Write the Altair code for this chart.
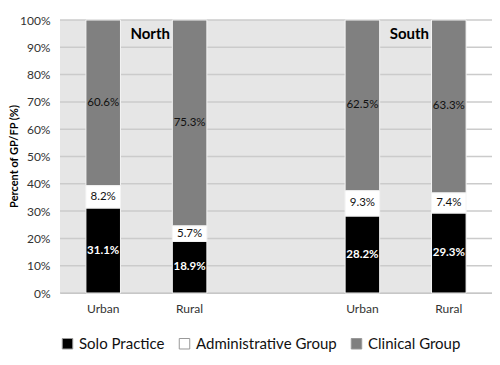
import altair as alt
import pandas as pd

slots = ["North Urban", "North Rural", "gap", "South Urban", "South Rural"]
bars = ["North Urban", "North Rural", "South Urban", "South Rural"]
series = ["Solo Practice", "Administrative Group", "Clinical Group"]
solo = [31.1, 18.9, 28.2, 29.3]
admin = [8.2, 5.7, 9.3, 7.4]
clinical = [60.6, 75.3, 62.5, 63.3]
colors = ["#000000", "#ffffff", "#808080"]
regions = ["North", "South"]
region_anchor = ["North Urban", "South Urban"]
y_ticks = [0, 0.1, 0.2, 0.3, 0.4, 0.5, 0.6, 0.7, 0.8, 0.9, 1.0]

rows = []
for i, b in enumerate(bars):
    for j, (s, vals) in enumerate(zip(series, [solo, admin, clinical])):
        rows.append({"bar": b, "series": s, "order": j, "value": vals[i],
                     "label": f"{vals[i]:.1f}%"})
df = pd.DataFrame(rows)

FONT = "Lato"
xscale = alt.Scale(domain=slots, paddingInner=0.6, paddingOuter=0.3)
yscale = alt.Scale(domain=[0, 1], nice=False)
yaxis = alt.Axis(
    title="Percent of GP/FP (%)", format=".0%", values=y_ticks, tickCount=11,
    grid=False, domain=False, ticks=False, labelPadding=10, labelFontSize=12,
    labelOverlap=False, labelColor="#333333", titleFontSize=11,
    titleFont=FONT, labelFont=FONT, titleFontWeight="bold",
    titleColor="#000000", titleX=-46, titleY=136, titleAngle=270,
    titleAlign="center", titleBaseline="middle")

bg = alt.Chart(pd.DataFrame({"a": [0]})).mark_rect(color="#e6e6e6").encode(
    x=alt.value(0), x2=alt.value(406), y=alt.value(0), y2=alt.value(273)
)

grid = alt.Chart(pd.DataFrame({"t": y_ticks})).mark_rule(
    color="#cbcbcb", strokeWidth=1.5
).encode(
    y=alt.Y("t:Q", scale=yscale, axis=yaxis),
    x=alt.value(0), x2=alt.value(432)
)

base = alt.Chart(df).transform_stack(
    stack="value", groupby=["bar"], as_=["y0", "y1"], offset="normalize",
    sort=[alt.SortField("order")]
).transform_calculate(mid="(datum.y0 + datum.y1) / 2")

barl = base.mark_bar(stroke="#f4f4f4", strokeWidth=1).encode(
    x=alt.X("bar:N", scale=xscale, sort=slots, axis=alt.Axis(
        title=None, labelAngle=0,
        labelExpr="datum.label == 'gap' ? '' : split(datum.label, ' ')[1]",
        labelFontSize=12, labelFont=FONT, labelColor="#333333", ticks=False,
        domain=True, domainColor="#bbbbbb", labelPadding=10)),
    y=alt.Y("y0:Q", scale=yscale, axis=yaxis),
    y2="y1:Q",
    color=alt.Color("series:N", scale=alt.Scale(domain=series, range=colors),
                    sort=series,
                    legend=alt.Legend(title=None, orient="none", direction="horizontal",
                                      legendX=0, legendY=316, symbolType="square",
                                      symbolSize=110, symbolStrokeColor="#999999",
                                      symbolStrokeWidth=1, labelFontSize=15,
                                      labelFont=FONT, labelColor="#111111",
                                      columnPadding=12, symbolOffset=0,
                                      labelOffset=4)),
)

labels_normal = base.transform_filter("datum.order > 0").mark_text(
    fontSize=11.5, font=FONT, color="#111111"
).encode(
    x=alt.X("bar:N", scale=xscale, sort=slots),
    y=alt.Y("mid:Q", scale=yscale, axis=yaxis),
    text="label:N",
)
labels_bold = base.transform_filter("datum.order == 0").mark_text(
    fontSize=11.5, font=FONT, color="#ffffff", fontWeight="bold"
).encode(
    x=alt.X("bar:N", scale=xscale, sort=slots),
    y=alt.Y("mid:Q", scale=yscale, axis=yaxis),
    text="label:N",
)

region_text = alt.Chart(pd.DataFrame({"r": regions, "b": region_anchor})).mark_text(
    fontSize=15, font=FONT, fontWeight="bold", color="#000000", dx=47
).encode(
    x=alt.X("b:N", scale=xscale, sort=slots),
    y=alt.value(14),
    text="r:N",
)

chart = alt.layer(bg, grid, barl, labels_normal, labels_bold, region_text).properties(
    width=432, height=273,
    autosize=alt.AutoSizeParams(type="none"),
    padding={"left": 52, "top": 12, "right": 0, "bottom": 64},
).configure_view(stroke=None)

chart.save("out.html", embed_options={"renderer": "svg", "actions": False})
